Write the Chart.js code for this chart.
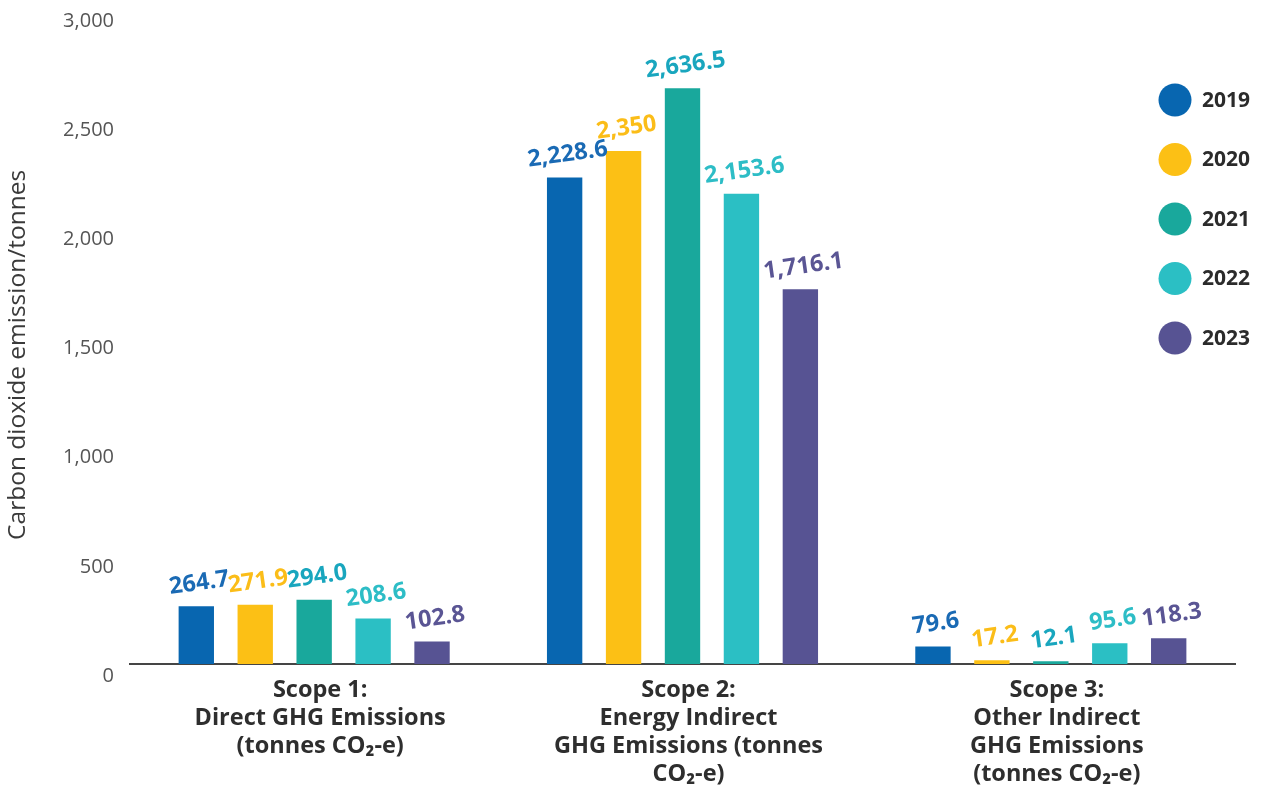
<!DOCTYPE html>
<html><head><meta charset="utf-8">
<script src="https://cdn.jsdelivr.net/npm/chart.js@4.4.1/dist/chart.umd.min.js"></script>
<style>html,body{margin:0;padding:0;background:#fff;overflow:hidden}#wrap{width:1262px;height:786px}</style>
</head><body><div id="wrap"><canvas id="c" width="1262" height="786"></canvas></div>
<script>
const categories = [
  ["Scope 1:", "Direct GHG Emissions", "(tonnes CO₂-e)"],
  ["Scope 2:", "Energy Indirect", "GHG Emissions (tonnes", "CO₂-e)"],
  ["Scope 3:", "Other Indirect", "GHG Emissions", "(tonnes CO₂-e)"]
];
const years = ["2019", "2020", "2021", "2022", "2023"];
const values2019 = [264.7, 2228.6, 79.6];
const values2020 = [271.9, 2350, 17.2];
const values2021 = [294.0, 2636.5, 12.1];
const values2022 = [208.6, 2153.6, 95.6];
const values2023 = [102.8, 1716.1, 118.3];
const labels2019 = ["264.7", "2,228.6", "79.6"];
const labels2020 = ["271.9", "2,350", "17.2"];
const labels2021 = ["294.0", "2,636.5", "12.1"];
const labels2022 = ["208.6", "2,153.6", "95.6"];
const labels2023 = ["102.8", "1,716.1", "118.3"];
const yTicks = [0, 500, 1000, 1500, 2000, 2500, 3000];
const yTitle = "Carbon dioxide emission/tonnes";

const barColors = ["#0866b0", "#fcc015", "#19a89c", "#2bbfc4", "#575393"];
const labelColors = ["#1a6ab4", "#fbbd18", "#19a6be", "#2dbdc6", "#5a5594"];
const seriesValues = [values2019, values2020, values2021, values2022, values2023];
const seriesLabels = [labels2019, labels2020, labels2021, labels2022, labels2023];

const FONT = '"Open Sans", "Noto Sans", sans-serif';

const valueLabels = {
  id: 'valueLabels',
  afterDatasetsDraw(chart) {
    const ctx = chart.ctx;
    chart.data.datasets.forEach((ds, i) => {
      const meta = chart.getDatasetMeta(i);
      meta.data.forEach((bar, j) => {
        ctx.save();
        ctx.translate(bar.x + 3, bar.y - 23);
        ctx.rotate(-8 * Math.PI / 180);
        ctx.font = 'bold 23.5px ' + FONT;
        ctx.fillStyle = labelColors[i];
        ctx.textAlign = 'center';
        ctx.textBaseline = 'middle';
        ctx.fillText(seriesLabels[i][j], 0, 0);
        ctx.restore();
      });
    });
  }
};

const sideLegend = {
  id: 'sideLegend',
  afterDraw(chart) {
    const ctx = chart.ctx;
    years.forEach((y, i) => {
      const cy = 100 + i * 59.5;
      ctx.save();
      ctx.beginPath();
      ctx.arc(1175, cy, 16.5, 0, Math.PI * 2);
      ctx.fillStyle = barColors[i];
      ctx.fill();
      ctx.font = 'bold 21px ' + FONT;
      ctx.fillStyle = '#2b2b2b';
      ctx.textAlign = 'left';
      ctx.textBaseline = 'middle';
      ctx.fillText(y, 1202, cy + 1);
      ctx.restore();
    });
  }
};

function build() {
  new Chart(document.getElementById('c'), {
    type: 'bar',
    data: {
      labels: categories,
      datasets: years.map((y, i) => ({
        label: y,
        data: seriesValues[i],
        backgroundColor: barColors[i],
        borderWidth: 0,
        categoryPercentage: 0.8,
        barPercentage: 0.6
      }))
    },
    options: {
      responsive: false,
      animation: false,
      devicePixelRatio: 1,
      layout: { padding: { top: 9, right: 27, left: 0, bottom: 0 } },
      plugins: { legend: { display: false }, tooltip: { enabled: false } },
      scales: {
        x: {
          grid: { display: false },
          border: { display: true, color: '#454545', width: 2 },
          ticks: {
            color: '#2e2e2e',
            font: { family: FONT, size: 23.5, weight: 'bold', lineHeight: 1.2 },
            padding: 4,
            labelOffset: 6,
            maxRotation: 0,
            autoSkip: false
          },
          afterFit(scale) { scale.height = 122; scale.paddingLeft = 0; scale.paddingRight = 0; }
        },
        y: {
          min: 0, max: 3000,
          afterBuildTicks(scale) { scale.ticks = yTicks.map(v => ({ value: v })); },
          grid: { display: false },
          border: { display: false },
          ticks: {
            color: '#555555',
            font: { family: FONT, size: 20 },
            padding: 8,
            labelOffset: 12,
            callback: v => v.toLocaleString('en-US')
          },
          title: {
            display: true,
            text: yTitle + '\u2002\u2002\u2002',
            color: '#3a3a3a',
            font: { family: FONT, size: 24.5 },
            padding: { top: 3, bottom: 0 }
          },
          afterFit(scale) { scale.width = 130; scale.paddingTop = 0; scale.paddingBottom = 0; }
        }
      }
    },
    plugins: [valueLabels, sideLegend]
  });
}
Promise.all([
  document.fonts.load('bold 21px "Open Sans"'),
  document.fonts.load('21px "Open Sans"')
]).then(build, build);
</script>
</body></html>
